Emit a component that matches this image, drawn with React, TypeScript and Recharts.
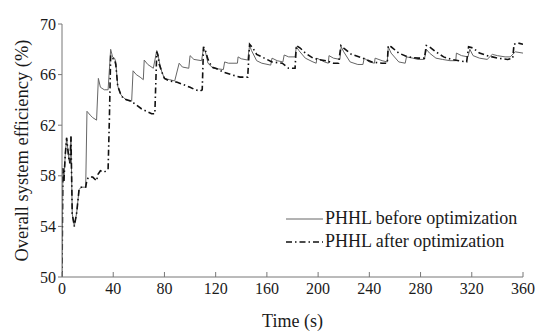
import { Line, LineChart, XAxis, YAxis } from "recharts";

// PHHL before optimization (thin grey solid line)
const beforeTime = [
  0, 0.7, 1.5, 2.5, 3.6, 5.5, 6.2, 7, 8, 9.6, 11.5, 13.3, 15, 18.5, 19.5, 22, 24,
  27, 28.4, 30, 33, 36, 38, 39.5, 41, 42, 43.5, 46, 48, 50, 53, 54.4, 55.5, 58,
  61, 63.5, 64.2, 67, 71.3, 74, 75, 76, 78, 80, 84, 88, 91.5, 94, 99, 100, 103,
  109, 110.5, 112, 114, 118, 126, 127, 130, 137, 137.5, 140, 145, 146.5, 148,
  152, 156, 163, 164, 168, 172.5, 173.5, 177, 182, 183, 185, 190, 196, 198.5,
  199, 205, 208, 208.5, 212, 217, 218, 220, 225, 231, 235, 236, 240, 244, 244.5,
  250, 254, 254.8, 257, 263, 268, 269, 274, 278, 283, 284.5, 287, 292, 297, 303,
  307.5, 308, 312, 317, 318.5, 321, 326, 332, 336, 340, 346, 350, 354, 360,
];
const beforeValue = [
  50, 58.6, 57.6, 59.6, 61.0, 59.2, 59.0, 61.1, 55.0, 54.0, 55.1, 56.9, 57.1,
  57.1, 63.1, 62.8, 62.6, 62.4, 65.7, 65.0, 64.8, 64.8, 68.0, 67.4, 67.3, 67.0,
  65.1, 64.4, 64.2, 64.0, 63.9, 63.9, 66.3, 66.0, 65.8, 65.6, 67.15, 66.8, 66.5,
  67.9, 67.6, 67.0, 66.2, 65.7, 65.6, 65.5, 66.9, 66.6, 66.5, 67.5, 67.2, 67.1,
  68.1, 67.8, 66.9, 66.5, 66.4, 67.0, 66.9, 66.9, 67.4, 67.25, 67.15, 68.3, 67.9,
  67.1, 66.9, 66.75, 67.3, 67.1, 67.0, 67.55, 67.4, 67.4, 68.2, 67.9, 67.3, 67.0,
  66.9, 67.3, 67.0, 66.9, 67.5, 67.3, 67.2, 68.2, 67.8, 67.0, 66.8, 66.8, 67.3,
  67.0, 66.9, 67.3, 67.1, 67.0, 68.2, 67.7, 67.0, 66.9, 67.4, 67.3, 67.2, 67.2,
  68.0, 67.7, 67.3, 67.2, 67.1, 67.1, 67.7, 67.5, 67.4, 68.0, 67.5, 67.3, 67.2,
  67.6, 67.5, 67.4, 67.4, 67.8, 67.7,
];

// PHHL after optimization (black dash-dot line)
const afterTime = [
  0, 0.7, 1.5, 2.5, 3.6, 5.5, 6.2, 7, 8, 9.6, 11.5, 13.3, 15, 18.5, 19.5, 21, 24,
  27, 28, 30, 33, 36, 37, 38, 39, 41, 42, 43.5, 46, 48, 54, 58, 62, 66, 70, 72.5,
  74, 75, 76, 78, 80, 84, 90, 95, 100, 104, 108, 109.5, 110.5, 112, 114, 117,
  120, 126, 132, 139, 145, 146.5, 149, 152, 158, 164, 172, 177, 182, 183, 186,
  190, 196, 200, 206, 212, 216, 217.8, 220, 226, 235, 242, 250, 254, 254.8, 257,
  263, 270, 278, 283, 284.5, 287, 292, 298, 304, 310, 316, 317.5, 321, 326, 332,
  340, 348, 352, 353, 356, 360,
];
const afterValue = [
  50, 58.6, 57.6, 59.6, 61.0, 59.2, 59.0, 61.1, 55.0, 54.0, 55.1, 56.9, 57.1,
  57.1, 57.7, 57.9, 57.9, 57.6, 58.1, 58.4, 58.3, 58.5, 62.5, 67.5, 67.3, 67.2,
  66.8, 65.1, 64.4, 64.1, 63.9, 63.6, 63.3, 63.1, 62.9, 62.9, 67.8, 67.5, 66.8,
  66.2, 65.7, 65.5, 65.4, 65.2, 65.0, 64.8, 64.7, 64.8, 68.2, 67.9, 67.2, 66.6,
  66.5, 66.2, 66.0, 65.8, 65.8, 68.4, 68.1, 67.6, 67.3, 67.0, 66.9, 66.5, 66.5,
  68.3, 68.1, 67.7, 67.3, 67.2, 67.1, 66.9, 66.9, 68.3, 68.1, 67.6, 67.3, 67.0,
  66.9, 66.9, 68.3, 68.2, 67.7, 67.4, 67.3, 67.3, 68.3, 68.2, 67.8, 67.4, 67.2,
  67.1, 67.0, 68.2, 68.1, 67.7, 67.5, 67.3, 67.2, 67.3, 68.4, 68.5, 68.4,
];

const xTicks = [0, 40, 80, 120, 160, 200, 240, 280, 320, 360];
const yTicks = [50, 54, 58, 62, 66, 70];

const beforeData = beforeTime.map((t, i) => ({ t, v: beforeValue[i] }));
const afterData = afterTime.map((t, i) => ({ t, v: afterValue[i] }));

const FONT = '"Liberation Serif", "Times New Roman", serif';
const TEXT = "#1a1a1a";
const AXIS = "#777";
const DASH = "6 3 1.5 3";

const XTick = ({ x, y, payload }: any) => (
  <g>
    <line x1={x} y1={y} x2={x} y2={y - 5} stroke={AXIS} strokeWidth={1} />
    <text
      x={x}
      y={y + 17}
      textAnchor="middle"
      fontFamily={FONT}
      fontSize={16}
      fill={TEXT}
    >
      {payload.value}
    </text>
  </g>
);

const YLabel = ({ viewBox }: any) => {
  const cy = viewBox.y + viewBox.height / 2;
  return (
    <text
      x={22}
      y={cy}
      transform={`rotate(-90 22 ${cy})`}
      textAnchor="middle"
      dominantBaseline="central"
      fontFamily={FONT}
      fontSize={18.5}
      fill={TEXT}
    >
      Overall system efficiency (%)
    </text>
  );
};

const XLabel = ({ viewBox }: any) => (
  <text
    x={viewBox.x + viewBox.width / 2}
    y={327}
    textAnchor="middle"
    fontFamily={FONT}
    fontSize={18}
    fill={TEXT}
  >
    Time (s)
  </text>
);

const LegendBox = () => (
  <div
    style={{
      position: "absolute",
      left: 286,
      top: 207,
      fontFamily: FONT,
      fontSize: 18,
      color: TEXT,
      lineHeight: "23px",
    }}
  >
    {[
      { name: "PHHL before optimization", dash: undefined, color: "#666", w: 1 },
      { name: "PHHL after optimization", dash: DASH, color: "#111", w: 1.6 },
    ].map((it) => (
      <div key={it.name} style={{ display: "flex", alignItems: "center" }}>
        <svg width={38} height={10} style={{ marginRight: 1 }}>
          <line
            x1={0}
            y1={5}
            x2={37}
            y2={5}
            stroke={it.color}
            strokeWidth={it.w}
            strokeDasharray={it.dash}
          />
        </svg>
        <span>{it.name}</span>
      </div>
    ))}
  </div>
);

export default function App() {
  return (
    <div
      style={{
        position: "absolute",
        left: 0,
        top: 0,
        width: 550,
        height: 335,
        background: "#fff",
      }}
    >
      <LineChart
        width={550}
        height={335}
        margin={{ top: 24, right: 27, bottom: 0, left: 0 }}
      >
        <XAxis
          type="number"
          dataKey="t"
          domain={[0, 360]}
          ticks={xTicks}
          interval={0}
          tickSize={0}
          tickMargin={0}
          tickLine={false}
          tick={<XTick />}
          axisLine={{ stroke: AXIS, strokeWidth: 1 }}
          height={58}
          allowDataOverflow
          label={<XLabel />}
        />
        <YAxis
          type="number"
          domain={[50, 70]}
          ticks={yTicks}
          interval={0}
          width={62}
          tickSize={4}
          tickMargin={2}
          tick={{ fontFamily: FONT, fontSize: 16, fill: TEXT }}
          tickLine={{ stroke: AXIS }}
          axisLine={{ stroke: AXIS, strokeWidth: 1 }}
          allowDataOverflow
          label={<YLabel />}
        />
        <Line
          data={beforeData}
          dataKey="v"
          type="linear"
          stroke="#666"
          strokeWidth={1}
          dot={false}
          activeDot={false}
          isAnimationActive={false}
        />
        <Line
          data={afterData}
          dataKey="v"
          type="linear"
          stroke="#111"
          strokeWidth={1.6}
          strokeDasharray={DASH}
          dot={false}
          activeDot={false}
          isAnimationActive={false}
        />
      </LineChart>
      <LegendBox />
    </div>
  );
}
